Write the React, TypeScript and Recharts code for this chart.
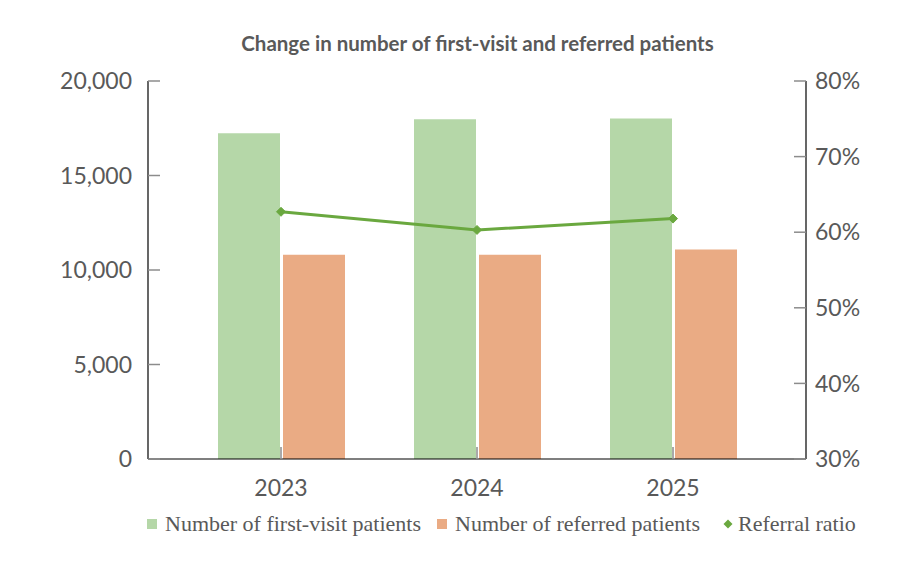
import React from 'react';
import { ComposedChart, Bar, Line, XAxis, YAxis, Legend } from 'recharts';

const years = ['2023', '2024', '2025'];
const firstVisit = [17230, 17970, 18020];
const referred = [10810, 10810, 11080];
const referralRatio = [0.627, 0.603, 0.618];

const countTicks = [0, 5000, 10000, 15000, 20000];
const ratioTicks = [0.3, 0.4, 0.5, 0.6, 0.7, 0.8];

const GREEN_BAR = '#B5D7A8';
const ORANGE_BAR = '#EAAB84';
const LINE_GREEN = '#6AA83F';
const TEXT_GRAY = '#595959';
const TICK_GRAY = '#8C8C8C';

const chartData = years.map((year, i) => ({
  year,
  firstVisit: firstVisit[i],
  referred: referred[i],
  ratio: referralRatio[i],
}));

const tickFont = { fontFamily: 'Lato', fontSize: 23, fill: TEXT_GRAY };

const Diamond = (props: any) => {
  const { cx, cy } = props;
  if (cx == null || cy == null) return null;
  const r = 4.5;
  return (
    <path
      d={`M${cx},${cy - r}L${cx + r},${cy}L${cx},${cy + r}L${cx - r},${cy}Z`}
      fill={LINE_GREEN}
      stroke={LINE_GREEN}
    />
  );
};

const legendItems = [
  { label: 'Number of first-visit patients', color: GREEN_BAR, shape: 'square' },
  { label: 'Number of referred patients', color: ORANGE_BAR, shape: 'square' },
  { label: 'Referral ratio', color: LINE_GREEN, shape: 'diamond' },
];

const ChartLegend = () => (
  <div
    style={{
      display: 'flex',
      alignItems: 'center',
      fontFamily: '"Liberation Serif", serif',
      fontSize: 22,
      color: TEXT_GRAY,
      whiteSpace: 'nowrap',
    }}
  >
    {legendItems.map((item) => (
      <div key={item.label} style={{ display: 'flex', alignItems: 'center', marginRight: 16 }}>
        {item.shape === 'square' ? (
          <div style={{ width: 10, height: 10, background: item.color, marginRight: 8 }} />
        ) : (
          <svg width={12} height={12} style={{ marginRight: 4, marginLeft: 6 }}>
            <path d="M6,1.5L10.5,6L6,10.5L1.5,6Z" fill={item.color} />
          </svg>
        )}
        <span>{item.label}</span>
      </div>
    ))}
  </div>
);

export default function App() {
  return (
    <div
      style={{
        position: 'absolute',
        left: 0,
        top: 0,
        width: 917,
        height: 576,
        background: '#fff',
      }}
    >
      <div
        style={{
          position: 'absolute',
          top: 31,
          left: 0,
          width: 917,
          textAlign: 'center',
          fontFamily: 'Lato',
          fontWeight: 700,
          fontSize: 20.5,
          color: TEXT_GRAY,
          paddingLeft: 38,
          boxSizing: 'border-box',
        }}
      >
        Change in number of first-visit and referred patients
      </div>
      <ComposedChart
        width={917}
        height={576}
        data={chartData}
        margin={{ top: 81, right: 0, bottom: 72, left: 0 }}
        barSize={62}
        barGap={3}
      >
        <XAxis
          dataKey="year"
          height={45}
          padding={{ left: 35, right: 35 }}
          axisLine={{ stroke: '#000', strokeWidth: 1.2 }}
          tickLine={{ stroke: TICK_GRAY, strokeWidth: 1.5 }}
          tickSize={-12}
          tickMargin={33}
          tick={tickFont}
        />
        <YAxis
          yAxisId="left"
          orientation="left"
          width={148}
          domain={[0, 20000]}
          ticks={countTicks}
          interval={0}
          tickFormatter={(v: number) => v.toLocaleString('en-US')}
          axisLine={{ stroke: '#000', strokeWidth: 1.2 }}
          tickLine={{ stroke: TICK_GRAY, strokeWidth: 1.5 }}
          tickSize={-12}
          tickMargin={28}
          tick={tickFont}
        />
        <YAxis
          yAxisId="right"
          orientation="right"
          width={111}
          domain={[0.3, 0.8]}
          ticks={ratioTicks}
          interval={0}
          tickFormatter={(v: number) => `${Math.round(v * 100)}%`}
          axisLine={{ stroke: '#000', strokeWidth: 1.2 }}
          tickLine={{ stroke: TICK_GRAY, strokeWidth: 1.5 }}
          tickSize={-12}
          tickMargin={21}
          tick={{ ...tickFont, textAnchor: 'start' }}
        />
        <Legend
          layout="horizontal"
          verticalAlign="middle"
          align="center"
          wrapperStyle={{ top: 511, left: 147, width: 760 }}
          content={() => <ChartLegend />}
        />
        <Bar
          yAxisId="left"
          dataKey="firstVisit"
          name="Number of first-visit patients"
          fill={GREEN_BAR}
          isAnimationActive={false}
        />
        <Bar
          yAxisId="left"
          dataKey="referred"
          name="Number of referred patients"
          fill={ORANGE_BAR}
          isAnimationActive={false}
        />
        <Line
          yAxisId="right"
          dataKey="ratio"
          name="Referral ratio"
          stroke={LINE_GREEN}
          strokeWidth={3}
          dot={<Diamond />}
          activeDot={false}
          isAnimationActive={false}
        />
      </ComposedChart>
    </div>
  );
}
